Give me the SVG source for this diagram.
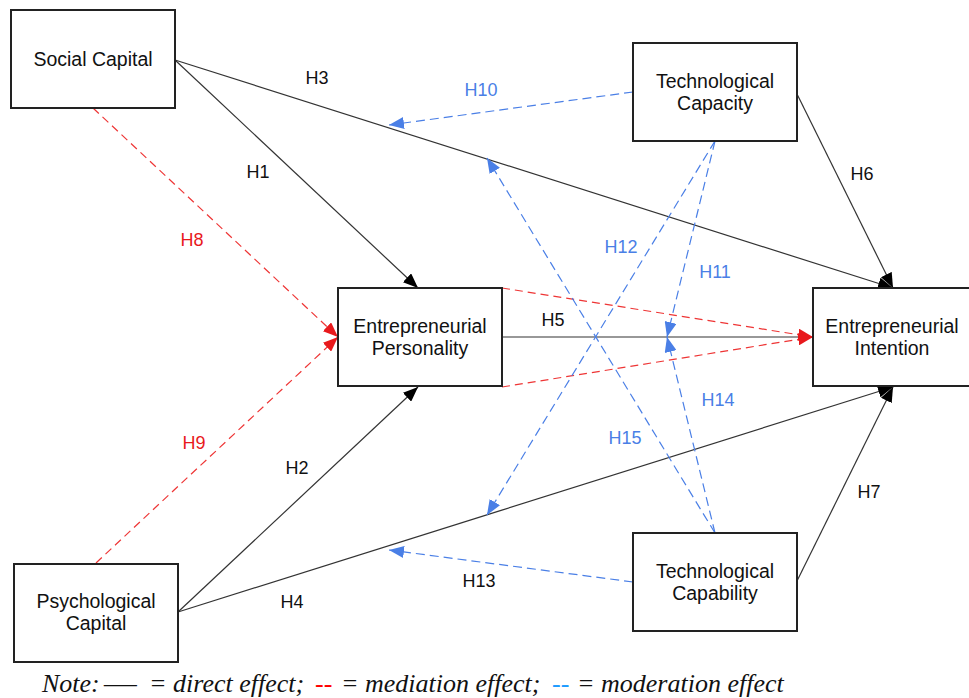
<svg xmlns="http://www.w3.org/2000/svg" width="969" height="698" viewBox="0 0 969 698">
<style>
.box{fill:#fff;stroke:#222;stroke-width:2}
.nt{font-family:"Liberation Sans",Arial,sans-serif;font-size:19.5px;fill:#111;text-anchor:middle}
.lb{font-family:"Liberation Sans",Arial,sans-serif;font-size:18px;text-anchor:middle}
.k{fill:#111}.r{fill:#e8191c}.b{fill:#4a7fe6}
.dir{stroke:#333;stroke-width:1.2;fill:none}
.med{stroke:#ee3535;stroke-width:1.2;stroke-dasharray:8 5;fill:none}
.mod{stroke:#4a7fe6;stroke-width:1.2;stroke-dasharray:9 5;fill:none}
.note{font-family:"Liberation Serif","Times New Roman",serif;font-style:italic;font-size:26px;fill:#111}
</style>
<defs>
<marker id="ak" markerUnits="userSpaceOnUse" markerWidth="16" markerHeight="12" refX="15" refY="6" orient="auto"><path d="M0,0 L15,6 L0,12 z" fill="#000"/></marker>
<marker id="ar" markerUnits="userSpaceOnUse" markerWidth="16" markerHeight="12" refX="15" refY="6" orient="auto"><path d="M0,0 L15,6 L0,12 z" fill="#e8191c"/></marker>
<marker id="ab" markerUnits="userSpaceOnUse" markerWidth="16" markerHeight="12" refX="15" refY="6" orient="auto"><path d="M0,0 L15,6 L0,12 z" fill="#4a7fe6"/></marker>
</defs>
<rect width="969" height="698" fill="#fff"/>
<g id="connectors">
<line class="dir" x1="175" y1="60" x2="418" y2="288" marker-end="url(#ak)"/>
<line class="dir" x1="175" y1="60" x2="893" y2="288" marker-end="url(#ak)"/>
<line class="dir" x1="178" y1="612" x2="418" y2="387" marker-end="url(#ak)"/>
<line class="dir" x1="178" y1="612" x2="893" y2="387" marker-end="url(#ak)"/>
<line class="dir" x1="797" y1="94" x2="893" y2="288" marker-end="url(#ak)"/>
<line class="dir" x1="797" y1="581" x2="893" y2="387" marker-end="url(#ak)"/>
<line class="dir" x1="502" y1="337" x2="813" y2="337"/>
<line class="med" x1="93" y1="108" x2="338" y2="337" marker-end="url(#ar)"/>
<line class="med" x1="96" y1="563" x2="338" y2="337" marker-end="url(#ar)"/>
<line class="med" x1="502" y1="288" x2="813" y2="337" marker-end="url(#ar)"/>
<line class="med" x1="502" y1="387" x2="813" y2="337" marker-end="url(#ar)"/>
<line class="mod" x1="633" y1="92" x2="389" y2="125" marker-end="url(#ab)"/>
<line class="mod" x1="633" y1="582" x2="389" y2="550" marker-end="url(#ab)"/>
<line class="mod" x1="715" y1="141" x2="667" y2="337" marker-end="url(#ab)"/>
<line class="mod" x1="715" y1="533" x2="667" y2="337" marker-end="url(#ab)"/>
<line class="mod" x1="715" y1="141" x2="487" y2="515" marker-end="url(#ab)"/>
<line class="mod" x1="715" y1="533" x2="487" y2="158" marker-end="url(#ab)"/>
</g>
<g id="labels">
<text class="lb k" x="317" y="84">H3</text>
<text class="lb b" x="481" y="96">H10</text>
<text class="lb k" x="258" y="178">H1</text>
<text class="lb r" x="192" y="246">H8</text>
<text class="lb k" x="862" y="180">H6</text>
<text class="lb b" x="621" y="253">H12</text>
<text class="lb b" x="715" y="278">H11</text>
<text class="lb k" x="553" y="326">H5</text>
<text class="lb b" x="718" y="406">H14</text>
<text class="lb r" x="194" y="449">H9</text>
<text class="lb b" x="625" y="444">H15</text>
<text class="lb k" x="297" y="474">H2</text>
<text class="lb k" x="869" y="498">H7</text>
<text class="lb k" x="479" y="587">H13</text>
<text class="lb k" x="292" y="608">H4</text>
</g>
<g id="social-capital"><rect class="box" x="11" y="10" width="164" height="98"/><text class="nt" x="93" y="66">Social Capital</text></g>
<g id="technological-capacity"><rect class="box" x="633" y="43" width="164" height="98"/><text class="nt" x="715" y="88">Technological</text><text class="nt" x="715" y="110">Capacity</text></g>
<g id="entrepreneurial-personality"><rect class="box" x="338" y="288" width="164" height="98"/><text class="nt" x="420" y="333">Entrepreneurial</text><text class="nt" x="420" y="355">Personality</text></g>
<g id="entrepreneurial-intention"><rect class="box" x="813" y="288" width="164" height="98"/><text class="nt" x="892" y="333">Entrepreneurial</text><text class="nt" x="892" y="355">Intention</text></g>
<g id="psychological-capital"><rect class="box" x="14" y="564" width="164" height="98"/><text class="nt" x="96" y="608">Psychological</text><text class="nt" x="96" y="630">Capital</text></g>
<g id="technological-capability"><rect class="box" x="633" y="533" width="164" height="98"/><text class="nt" x="715" y="578">Technological</text><text class="nt" x="715" y="600">Capability</text></g>
<g id="note">
<text class="note" x="42" y="692">Note:</text>
<text class="note" font-style="normal" transform="translate(104 692) scale(1.42 1)" x="0" y="0">—</text>
<text class="note" y="692"><tspan x="149">= direct effect;</tspan><tspan x="315" fill="#ff0000" font-style="normal">--</tspan><tspan x="341">= mediation effect;</tspan><tspan x="552" fill="#1e9bff" font-style="normal">--</tspan><tspan x="577">= moderation effect</tspan></text>
</g>
</svg>
